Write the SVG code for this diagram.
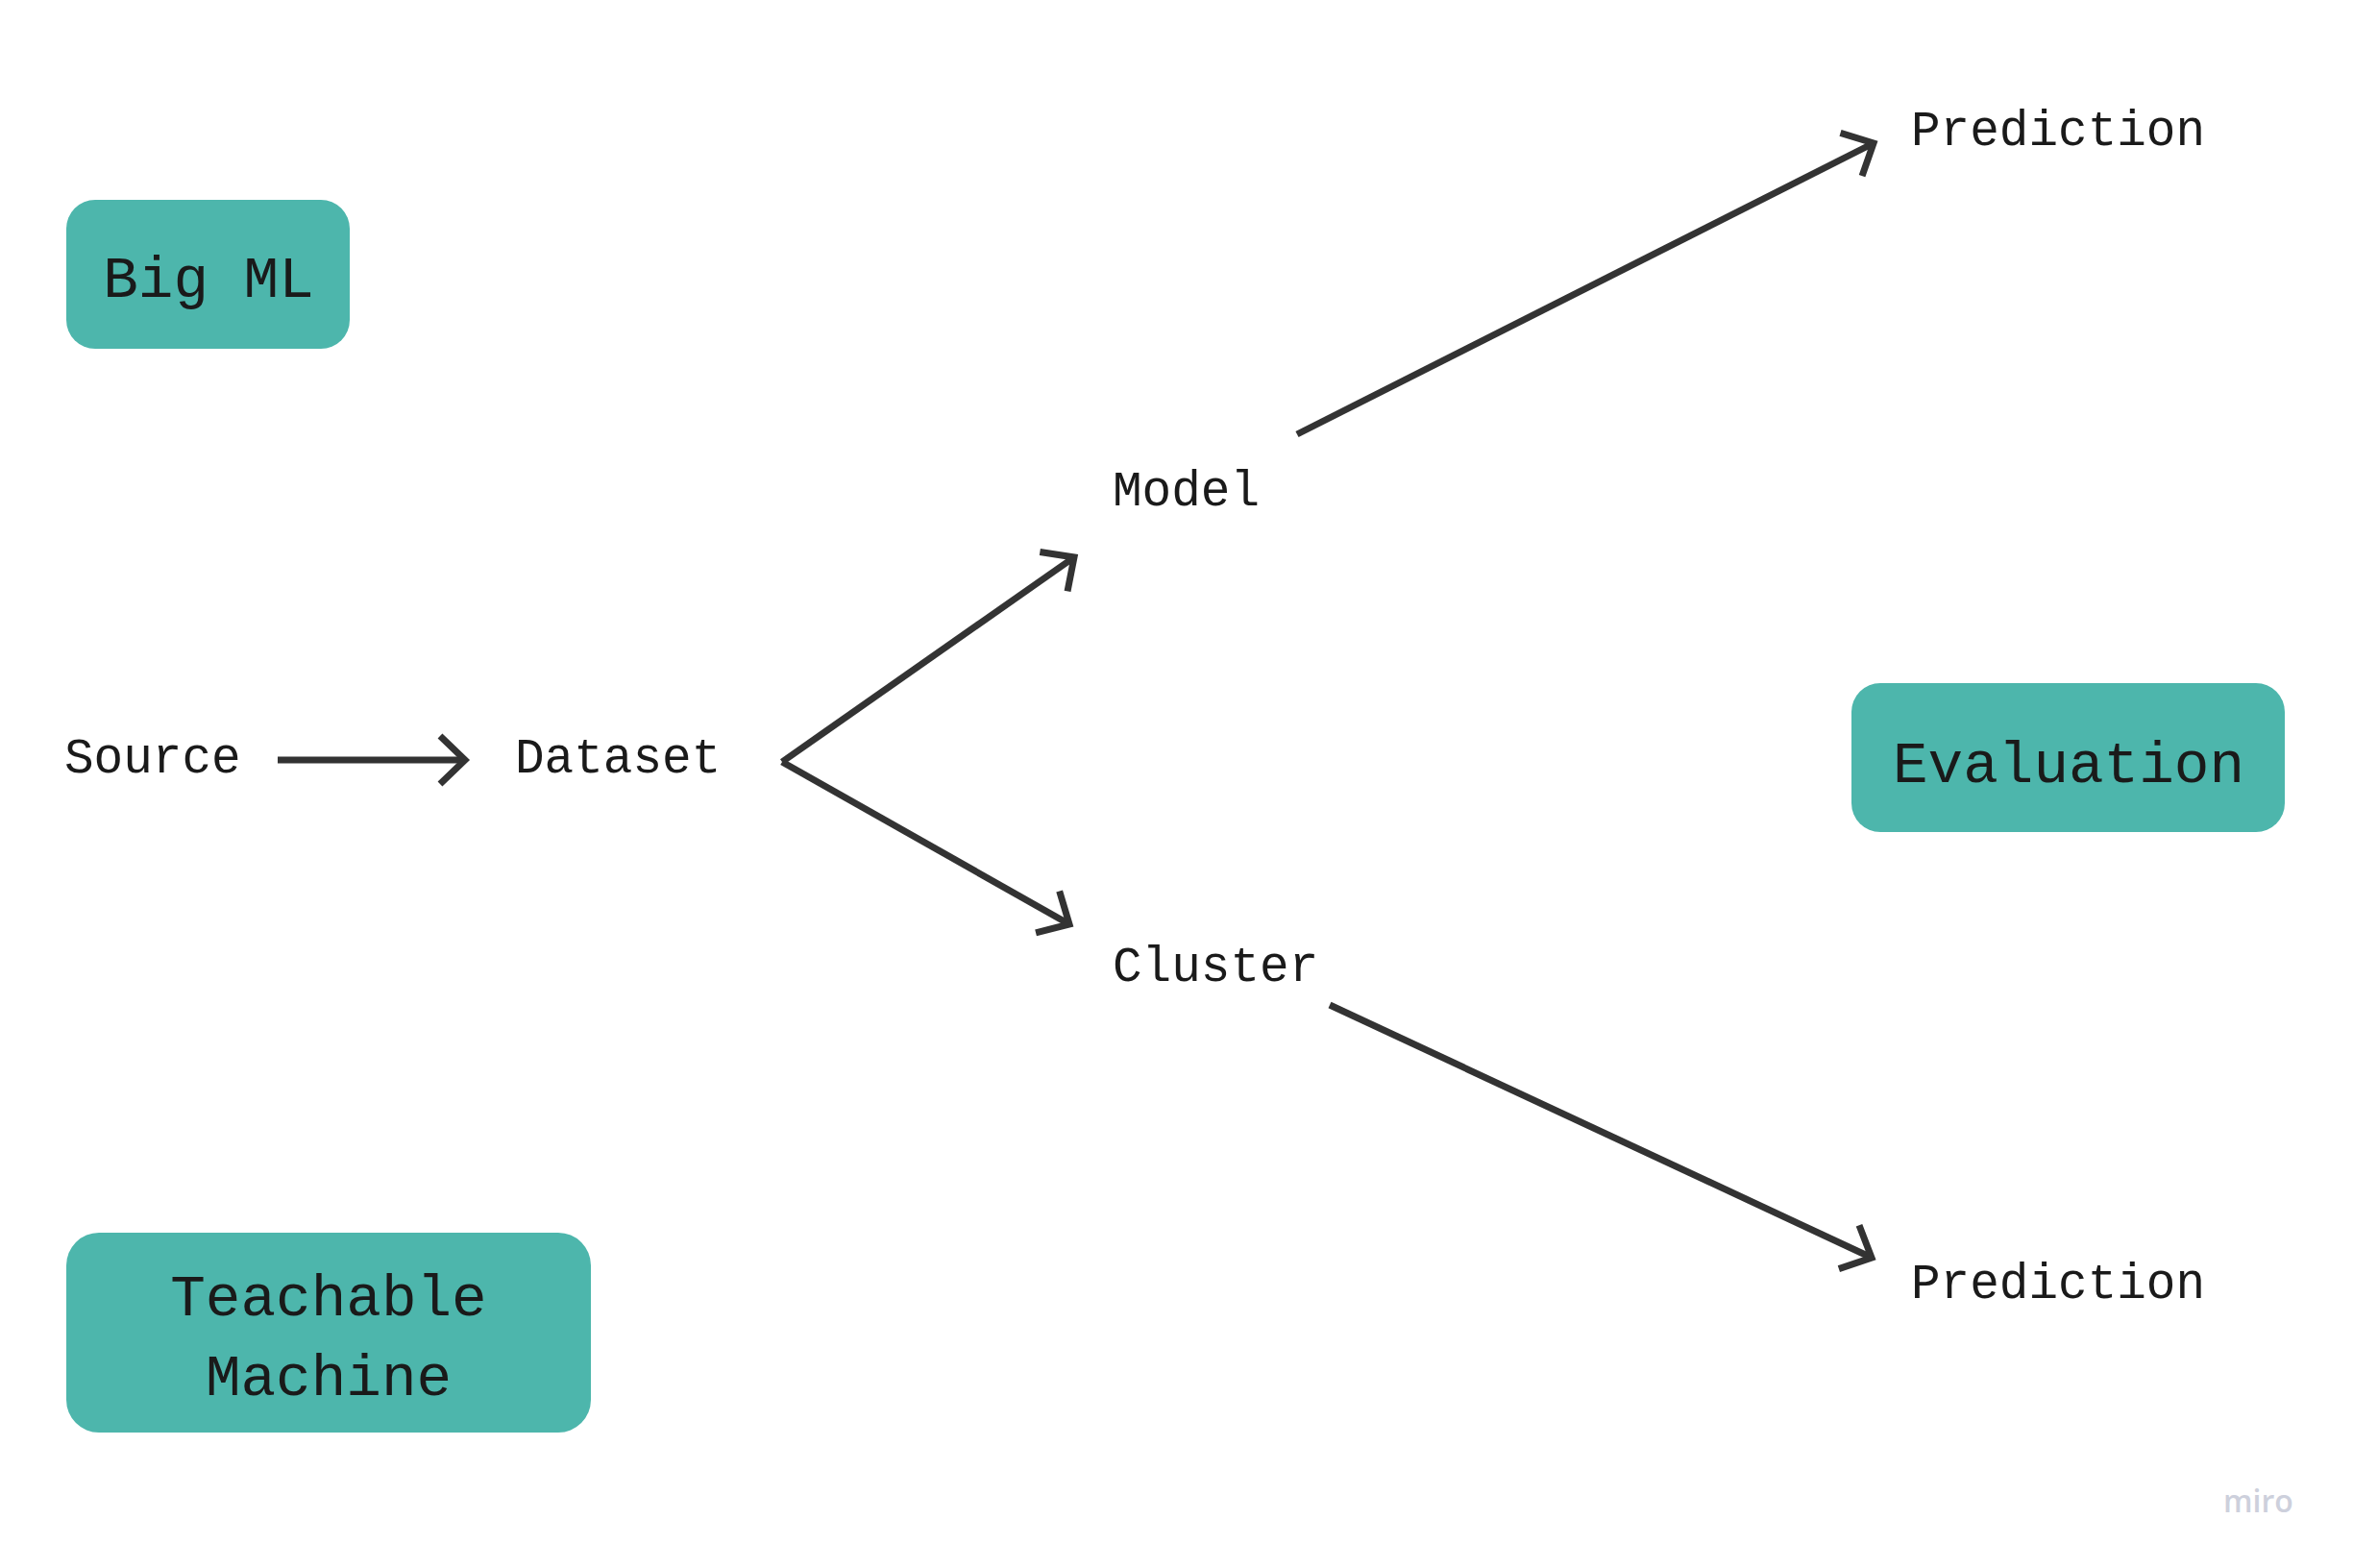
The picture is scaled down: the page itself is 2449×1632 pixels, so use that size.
<svg xmlns="http://www.w3.org/2000/svg" width="2449" height="1632" viewBox="0 0 2449 1632">
  <style>
    .box { fill: #4db6ac; }
    .lbl { font-family: "Liberation Mono", "DejaVu Sans Mono", monospace; font-size: 51px; fill: #1a1a1a; }
    .big { font-family: "Liberation Mono", "DejaVu Sans Mono", monospace; font-size: 61px; fill: #1a1a1a; text-anchor: middle; }
    .conn { stroke: #333333; stroke-width: 7; fill: none; }
    .logo { font-family: "Open Sans", "Noto Sans", sans-serif; font-size: 32px; fill: #cdd0dc; font-weight: 600; }
  </style>
  <defs>
    <marker id="arrow" markerUnits="userSpaceOnUse" markerWidth="60" markerHeight="70" viewBox="-40 -35 50 70" refX="0" refY="0" orient="auto" overflow="visible">
      <path d="M -26 -25 L 0 0 L -26 25" fill="none" stroke="#333333" stroke-width="7"/>
    </marker>
  </defs>
  <rect width="2449" height="1632" fill="#ffffff"/>

  <g id="connectors">
    <line class="conn" x1="289" y1="791" x2="484" y2="791" marker-end="url(#arrow)"/>
    <line class="conn" x1="814" y1="793" x2="1118" y2="580" marker-end="url(#arrow)"/>
    <line class="conn" x1="814" y1="793" x2="1113" y2="962" marker-end="url(#arrow)"/>
    <line class="conn" x1="1350" y1="452" x2="1950" y2="149" marker-end="url(#arrow)"/>
    <line class="conn" x1="1384" y1="1046" x2="1948" y2="1309" marker-end="url(#arrow)"/>
  </g>

  <g id="node-bigml">
    <rect class="box" x="69" y="208" width="295" height="155" rx="30" ry="30"/>
    <text class="big" x="217" y="309">Big ML</text>
  </g>

  <g id="node-teachable">
    <rect class="box" x="69" y="1283" width="546" height="208" rx="34" ry="34"/>
    <text class="big" x="342" y="1369">Teachable</text>
    <text class="big" x="342" y="1452">Machine</text>
  </g>

  <g id="node-evaluation">
    <rect class="box" x="1927" y="711" width="451" height="155" rx="30" ry="30"/>
    <text class="big" x="2153" y="814">Evaluation</text>
  </g>

  <g id="node-source">
    <text class="lbl" x="67" y="804">Source</text>
  </g>
  <g id="node-dataset">
    <text class="lbl" x="536" y="804">Dataset</text>
  </g>
  <g id="node-model">
    <text class="lbl" x="1158" y="526">Model</text>
  </g>
  <g id="node-cluster">
    <text class="lbl" x="1158" y="1021">Cluster</text>
  </g>
  <g id="node-prediction-top">
    <text class="lbl" x="1989" y="151">Prediction</text>
  </g>
  <g id="node-prediction-bottom">
    <text class="lbl" x="1989" y="1351">Prediction</text>
  </g>

  <text class="logo" x="2314" y="1574">miro</text>
</svg>
